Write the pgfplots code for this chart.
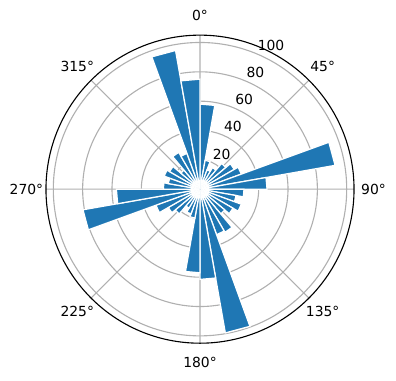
\documentclass[border=0pt]{standalone}
\usepackage{pgfplots}
\pgfplotsset{compat=1.18}
\usepgfplotslibrary{polar}
\usepackage{fontspec}
\setmainfont{DejaVu Sans}
\definecolor{barblue}{HTML}{1F77B4}
\definecolor{gridgray}{HTML}{B0B0B0}
% #1,#2 = edge angles (pgf orientation), #3 = radius (count)
\newcommand\rosebar[3]{\addplot[fill=barblue, draw=white, line width=0.9pt] coordinates {(#1,0) (#1,#3) (#2,#3) (#2,0)} -- cycle;}
\begin{document}
\begin{tikzpicture}
\fontsize{10}{12}\selectfont
\begin{polaraxis}[
  width=221.8pt, height=221.8pt, scale only axis,
  xmin=0, xmax=360, ymin=0, ymax=105,
  xtick={0,45,...,315}, xticklabels={},
  ytick={20,40,60,80,100}, yticklabels={},
  grid=major,
  major grid style={gridgray, line width=0.8pt},
  axis line style={black, line width=0.8pt},
  y axis line style={draw=none},
  tick style={draw=none},
  clip=false,
]
\coordinate (c) at (axis cs:0,0);
% compass bins of 10 degrees, clockwise from north
\rosebar{90}{80}{58}      % 0-10
\rosebar{80}{70}{20}      % 10-20
\rosebar{70}{60}{14}      % 20-30
\rosebar{60}{50}{17}      % 30-40
\rosebar{50}{40}{23}      % 40-50
\rosebar{40}{30}{27}      % 50-60
\rosebar{30}{20}{30}      % 60-70
\rosebar{20}{10}{93.5}    % 70-80
\rosebar{10}{0}{45.7}     % 80-90
\rosebar{0}{-10}{30}      % 90-100
\rosebar{-10}{-20}{25}    % 100-110
\rosebar{-20}{-30}{30}    % 110-120
\rosebar{-30}{-40}{26}    % 120-130
\rosebar{-40}{-50}{22}    % 130-140
\rosebar{-50}{-60}{34}    % 140-150
\rosebar{-60}{-70}{33}    % 150-160
\rosebar{-70}{-80}{99.5}  % 160-170
\rosebar{-80}{-90}{61.5}  % 170-180
\rosebar{-90}{-100}{57}   % 180-190
\rosebar{-100}{-110}{20}  % 190-200
\rosebar{-110}{-120}{18}  % 200-210
\rosebar{-120}{-130}{15}  % 210-220
\rosebar{-130}{-140}{22}  % 220-230
\rosebar{-140}{-150}{25}  % 230-240
\rosebar{-150}{-160}{32}  % 240-250
\rosebar{-160}{-170}{81}  % 250-260
\rosebar{-170}{-180}{57}  % 260-270
\rosebar{-180}{-190}{25}  % 270-280
\rosebar{-190}{-200}{22}  % 280-290
\rosebar{-200}{-210}{26}  % 290-300
\rosebar{-210}{-220}{24}  % 300-310
\rosebar{-220}{-230}{17}  % 310-320
\rosebar{-230}{-240}{29}  % 320-330
\rosebar{-240}{-250}{26}  % 330-340
\rosebar{-250}{-260}{96}  % 340-350
\rosebar{-260}{-270}{75}  % 350-360
% angular labels (compass orientation)
\node[anchor=center] at (axis cs:90,118.3) {0°};
\node[anchor=center] at (axis cs:45,118.3) {45°};
\node[anchor=center] at (axis cs:0,118.3) {90°};
\node[anchor=center] at (axis cs:-45,118.3) {135°};
\node[anchor=center] at (axis cs:-90,118.3) {180°};
\node[anchor=center] at (axis cs:-135,118.3) {225°};
\node[anchor=center] at (axis cs:180,118.3) {270°};
\node[anchor=center] at (axis cs:135,118.3) {315°};
% radial labels at 22.5 deg compass
\node[anchor=south west, inner sep=0pt, xshift=1pt, yshift=1.8pt] at (axis cs:67.5,20) {20};
\node[anchor=south west, inner sep=0pt, xshift=1pt, yshift=1.8pt] at (axis cs:67.5,40) {40};
\node[anchor=south west, inner sep=0pt, xshift=1pt, yshift=1.8pt] at (axis cs:67.5,60) {60};
\node[anchor=south west, inner sep=0pt, xshift=1pt, yshift=1.8pt] at (axis cs:67.5,80) {80};
\node[anchor=south west, inner sep=0pt, xshift=1pt, yshift=1.8pt] at (axis cs:67.5,100) {100};
\end{polaraxis}
\pgfresetboundingbox
\path (c) ++(-144pt,-137.4pt) rectangle ++(285.12pt,273.6pt);
\end{tikzpicture}
\end{document}
